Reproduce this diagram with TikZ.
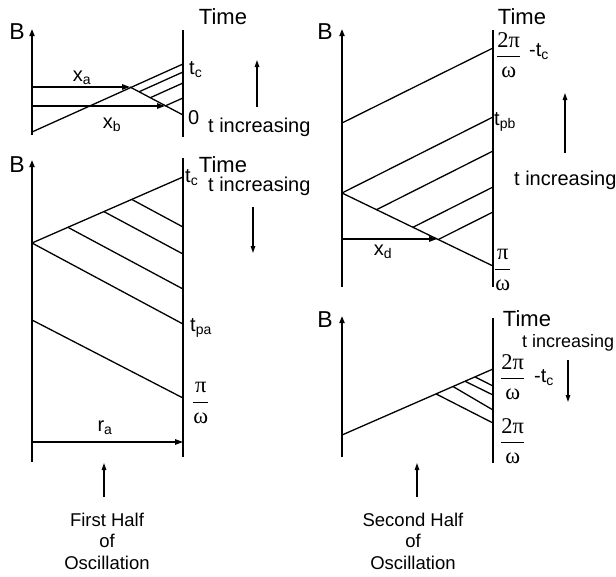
\documentclass[tikz,border=0pt]{standalone}
\usepackage{fix-cm}
\usepackage{amsmath}
\usepackage{fontspec}
\setmainfont{Liberation Sans}
\newfontfamily\serifgr{Liberation Serif}
\usetikzlibrary{arrows.meta}

\newcommand{\frc}[2]{$\dfrac{\text{\serifgr #1}}{\text{\serifgr #2}}$}

\tikzset{
  axisline/.style={line width=1.6pt},
  trace/.style={line width=1.3pt},
  axisarrow/.style={line width=1.6pt, -{Triangle[length=7pt,width=5pt]}},
  distarrow/.style={line width=1.3pt, -{Triangle[length=8pt,width=5.5pt]}},
  timearrow/.style={line width=1.3pt, -{Triangle[length=7pt,width=4.5pt]}},
  biglbl/.style={font=\fontsize{22}{26}\selectfont, inner sep=0pt},
  axlbl/.style={font=\fontsize{23}{27}\selectfont, inner sep=0pt},
  lbl/.style={font=\fontsize{20}{24}\selectfont, inner sep=0pt},
  fraclbl/.style={font=\fontsize{22.5}{26}\selectfont, inner sep=0pt},
  caption/.style={font=\fontsize{18.5}{21.5}\selectfont, inner sep=0pt, align=center},
}

\begin{document}
\begin{tikzpicture}[x=1pt, y=-1pt]
  \useasboundingbox (0,0) rectangle (616,576);

  % first half, upper panel
  \coordinate (axA0) at (32,135);  \coordinate (axA1) at (32,29);
  \coordinate (tmA0) at (183,30);  \coordinate (tmA1) at (183,137);
  \coordinate (riseA0) at (32,132); \coordinate (riseA1) at (183,64);
  \coordinate (xa0) at (32,87);    \coordinate (xa1) at (130,87);
  \coordinate (xb0) at (32,106);   \coordinate (xb1) at (165,106);
  \coordinate (zeroA) at (183,115);
  \draw[axisarrow] (axA0) -- (axA1);
  \draw[axisline] (tmA0) -- (tmA1);
  \draw[trace] (riseA0) -- (riseA1);
  \draw[trace] (xa1) -- (zeroA);
  \draw[distarrow] (xa0) -- (xa1);
  \draw[distarrow] (xb0) -- (xb1);
  \foreach \xs/\ys/\ye in {139/91.8/72, 150.3/97.7/83, 165/106/98}
    \draw[trace] (\xs,\ys) -- (183,\ye);
  \node[axlbl] (bA) at (17,32) {B};
  \node[biglbl] (timeA) at (223,17) {Time};
  \node[lbl] (xaLbl) at (82,78) {x\textsubscript{a}};
  \node[lbl] (xbLbl) at (112,125) {x\textsubscript{b}};
  \node[lbl, anchor=west] (tcA) at (189,70) {t\textsubscript{c}};
  \node[lbl, anchor=west] (zA) at (188,118) {0};
  \coordinate (upA0) at (257,107); \coordinate (upA1) at (257,60);
  \draw[timearrow] (upA0) -- (upA1);
  \node[lbl, anchor=base west] (incA) at (208,132) {t increasing};

  % first half, lower panel
  \coordinate (axB0) at (32,462);  \coordinate (axB1) at (32,160);
  \coordinate (tmB0) at (183,158); \coordinate (tmB1) at (183,457);
  \coordinate (riseB0) at (32,243); \coordinate (riseB1) at (183,177);
  \coordinate (paB) at (183,324);
  \coordinate (lowB0) at (32,320); \coordinate (lowB1) at (183,398);
  \coordinate (ra0) at (32,442);   \coordinate (ra1) at (183,442);
  \draw[axisarrow] (axB0) -- (axB1);
  \draw[axisline] (tmB0) -- (tmB1);
  \draw[trace] (riseB0) -- (riseB1);
  \draw[trace] (riseB0) -- (paB);
  \draw[trace] (lowB0) -- (lowB1);
  \foreach \xs/\ys/\ye in {131.7/199.4/227, 103.9/211.6/254, 67.9/227.3/289}
    \draw[trace] (\xs,\ys) -- (183,\ye);
  \draw[distarrow] (ra0) -- (ra1);
  \node[axlbl] (bB) at (17,165) {B};
  \node[biglbl] (timeB) at (223,165) {Time};
  \node[lbl, anchor=west] (tcB) at (185,178) {t\textsubscript{c}};
  \node[lbl, anchor=base west] (incB) at (208,191) {t increasing};
  \coordinate (dnB0) at (253,207); \coordinate (dnB1) at (253,253);
  \draw[timearrow] (dnB0) -- (dnB1);
  \node[lbl, anchor=west] (tpa) at (190,328) {t\textsubscript{pa}};
  \node[fraclbl, anchor=west] (piB) at (192,403) {\frc{π}{ω}};
  \node[lbl] (raLbl) at (105,428) {r\textsubscript{a}};
  \coordinate (upC0) at (104,497); \coordinate (upC1) at (104,463);
  \draw[timearrow] (upC0) -- (upC1);
  \node[caption] (firstHalf) at (107,541) {First Half\\of\\Oscillation};

  % second half, upper panel
  \coordinate (axD0) at (342,287); \coordinate (axD1) at (342,29);
  \coordinate (tmD0) at (493,30);  \coordinate (tmD1) at (493,287);
  \coordinate (riseD0) at (342,123); \coordinate (riseD1) at (493,48);
  \coordinate (midD0) at (342,193);  \coordinate (midD1) at (493,117);
  \coordinate (piD) at (493,266);
  \coordinate (xd0) at (342,239); \coordinate (xd1) at (437,239);
  \draw[axisarrow] (axD0) -- (axD1);
  \draw[axisline] (tmD0) -- (tmD1);
  \draw[trace] (riseD0) -- (riseD1);
  \draw[trace] (midD0) -- (midD1);
  \draw[trace] (midD0) -- (piD);
  \foreach \xs/\ys/\ye in {376.5/209.7/151, 412.9/227.3/187, 438.3/239.5/212}
    \draw[trace] (\xs,\ys) -- (493,\ye);
  \draw[distarrow] (xd0) -- (xd1);
  \node[axlbl] (bD) at (325,32) {B};
  \node[biglbl] (timeD) at (522,17) {Time};
  \node[fraclbl, anchor=west] (fracD) at (496,55) {\frc{2π}{ω}};
  \node[lbl, anchor=west] (tcD) at (529,52) {-t\textsubscript{c}};
  \node[lbl, anchor=west] (tpb) at (494,122) {t\textsubscript{pb}};
  \node[fraclbl, anchor=west] (piDLbl) at (494,270) {\frc{π}{ω}};
  \node[lbl] (xdLbl) at (383,252) {x\textsubscript{d}};
  \coordinate (upD0) at (565,153); \coordinate (upD1) at (565,93);
  \draw[timearrow] (upD0) -- (upD1);
  \node[lbl, anchor=base west] (incD) at (514,185) {t increasing};

  % second half, lower panel
  \coordinate (axE0) at (342,457); \coordinate (axE1) at (342,316);
  \coordinate (tmE0) at (493,318); \coordinate (tmE1) at (493,463);
  \coordinate (riseE0) at (342,435); \coordinate (riseE1) at (493,369);
  \draw[axisarrow] (axE0) -- (axE1);
  \draw[axisline] (tmE0) -- (tmE1);
  \draw[trace] (riseE0) -- (riseE1);
  \foreach \xs/\ys/\ye in {436/393.9/423, 453/386.5/410, 465/381.2/395, 475/376.9/386}
    \draw[trace] (\xs,\ys) -- (493,\ye);
  \node[axlbl] (bE) at (325,320) {B};
  \node[biglbl] (timeE) at (527,319) {Time};
  \node[lbl, font=\fontsize{18}{21}\selectfont, anchor=base west] (incE) at (522,347) {t increasing};
  \node[fraclbl, anchor=west] (fracE) at (500,377) {\frc{2π}{ω}};
  \node[lbl, anchor=west] (tcE) at (534,378) {-t\textsubscript{c}};
  \coordinate (dnE0) at (568,360); \coordinate (dnE1) at (568,402);
  \draw[timearrow] (dnE0) -- (dnE1);
  \node[fraclbl, anchor=west] (fracE2) at (500,441) {\frc{2π}{ω}};
  \coordinate (upF0) at (417,497); \coordinate (upF1) at (417,463);
  \draw[timearrow] (upF0) -- (upF1);
  \node[caption] (secondHalf) at (413,541) {Second Half\\of\\Oscillation};
\end{tikzpicture}
\end{document}
